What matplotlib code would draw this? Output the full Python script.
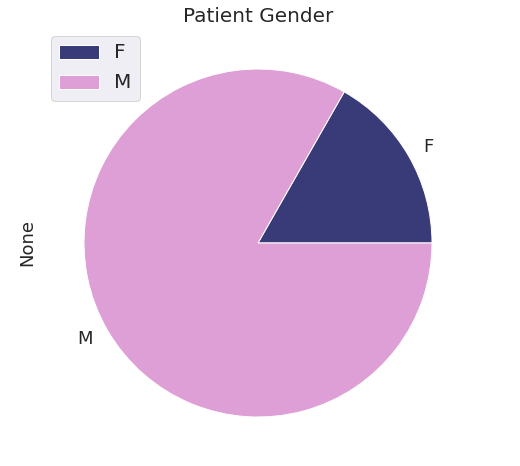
import matplotlib
matplotlib.use("Agg")
import matplotlib.pyplot as plt
import seaborn as sns

sns.set_theme(style="darkgrid")
plt.rcParams['font.family'] = ['DejaVu Sans']

categories = ["F", "M"]
values = [16.75, 83.25]
colors = ["#393b79", "#de9ed6"]

fig = plt.figure(figsize=(520/72, 466/72), dpi=72)
ax = fig.add_axes([40.5/520, 5.5/466, 435/520, 435/466])
wedges, texts = ax.pie(values, labels=categories, colors=colors,
                       wedgeprops=dict(edgecolor="white", linewidth=1),
                       textprops=dict(fontsize=18))
ax.set_title("Patient Gender", fontsize=20, pad=4)
ax.set_ylabel("None", fontsize=18)
ax.legend(wedges, categories, loc="upper left", fontsize=20,
          labelspacing=0.55)
fig.savefig("out.png", dpi=72, facecolor="white")
